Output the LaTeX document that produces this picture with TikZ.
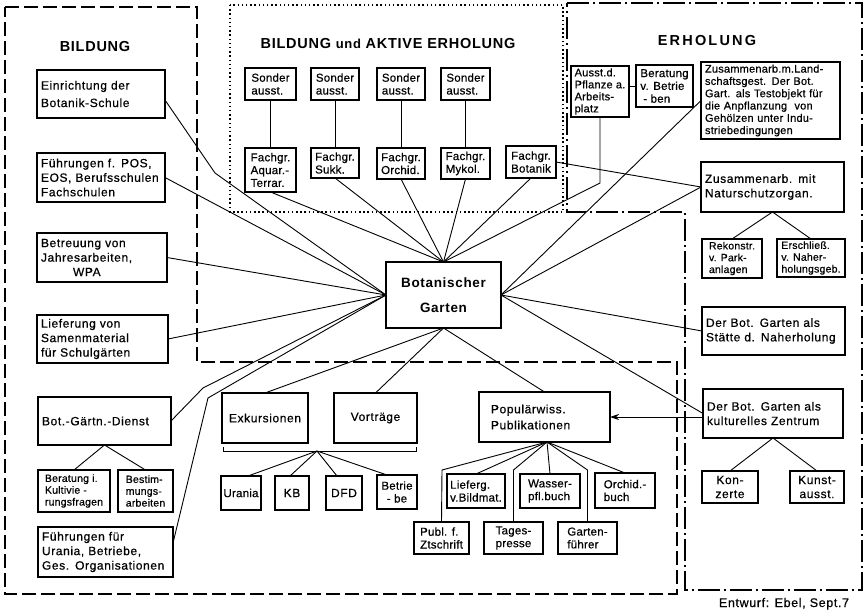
\documentclass[tikz,border=0pt]{standalone}
\usepackage{fontspec}
\setmainfont{Liberation Sans}[LetterSpace=5, UprightFeatures={FakeBold=0.6}]
\newfontfamily\nfont{Liberation Sans}[LetterSpace=2, FakeBold=0.6]
\usetikzlibrary{arrows.meta,calc}
\begin{document}
\begin{tikzpicture}[x=1pt,y=-1pt,
  every node/.style={inner sep=0pt, outer sep=0pt},
  box/.style={draw, line width=1.2pt},
  big/.style={box, font=\fontsize{12}{14.5}\selectfont, align=left, inner xsep=4pt},
  sm/.style={box, font=\nfont\fontsize{11.5}{12.8}\selectfont, align=left, inner xsep=1pt},
  smc/.style={sm, align=center},
  tiny/.style={font=\nfont\fontsize{10.5}{11.8}\selectfont},
  sz/.style 2 args={minimum width=#1, minimum height=#2},
  tw/.style={text width=#1},
  conn/.style={line width=0.9pt},
  title/.style={font=\bfseries\fontsize{14.5}{17}\selectfont},
  dashframe/.style={line width=1.8pt, dash pattern=on 14pt off 5pt},
  dotframe/.style={line width=1.8pt, dash pattern=on 1.5pt off 2.7pt},
  ddframe/.style={line width=1.7pt, dash pattern=on 22pt off 4pt on 2pt off 4pt},
]
\useasboundingbox (0,0) rectangle (867,612);

% frames
\draw[dashframe] (5,7) -- (197,7) -- (197,362) -- (677,362) -- (677,594) -- (5,594) -- cycle;
\draw[dotframe] (230,5) rectangle (563,212);
\draw[ddframe] (567,3) -- (862,3) -- (862,590) -- (685,590) -- (685,212) -- (567,212) -- cycle;

% titles
\node[title] (tB) at (95,47) {BILDUNG};
\node[title] (tBA) at (388,44) {BILDUNG {\fontsize{13}{15}\selectfont und} AKTIVE ERHOLUNG};
\node[font=\bfseries\fontsize{14.5}{17}\selectfont\addfontfeature{LetterSpace=15}] (tE) at (707,41) {ERHOLUNG};
\node[anchor=base west, font=\fontsize{12.5}{14}\selectfont] (ent) at (719,607) {Entwurf: Ebel, Sept.7};

% left column
\node[big, tw=120pt, minimum height=48pt] (ein) at (101,94) {Einrichtung der\\[3pt]Botanik-Schule};
\node[big, tw=120pt, minimum height=49pt] (fpos) at (101,177.5) {Führungen f. POS,\\EOS, Berufsschulen\\Fachschulen};
\node[big, tw=122pt, minimum height=49pt] (betr) at (102,257.5) {Betreuung von\\Jahresarbeiten,\\\hspace*{32pt}WPA};
\node[big, tw=123pt, minimum height=48pt] (lief) at (102.5,339) {Lieferung von\\Samenmaterial\\für Schulgärten};
\node[big, tw=125pt, minimum height=48pt] (bgd) at (104.5,421) {Bot.-Gärtn.-Dienst};
\node[sm, tiny, sz={72pt}{42pt}] (ber) at (74,491) {Beratung i.\\Kultivie -\\rungsfragen};
\node[sm, tiny, sz={55pt}{42pt}] (best) at (145.5,491) {Bestim-\\mungs-\\arbeiten};
\node[big, tw=127pt, minimum height=50pt] (furan) at (105.5,552) {Führungen für\\Urania, Betriebe,\\Ges. Organisationen};

% middle top
\node[sm, sz={51pt}{32pt}] (s1) at (270.5,84) {Sonder\\ausst.};
\node[sm, sz={48pt}{32pt}] (s2) at (335,84) {Sonder\\ausst.};
\node[sm, sz={48pt}{32pt}] (s3) at (401,84) {Sonder\\ausst.};
\node[sm, sz={49pt}{32pt}] (s4) at (465.5,84) {Sonder\\ausst.};
\node[sm, sz={51pt}{44pt}] (f1) at (270.5,170) {Fachgr.\\Aquar.-\\Terrar.};
\node[sm, sz={48pt}{30pt}] (f2) at (335,163) {Fachgr.\\Sukk.};
\node[sm, sz={48pt}{31pt}] (f3) at (401,163.5) {Fachgr.\\Orchid.};
\node[sm, sz={49pt}{31pt}] (f4) at (465.5,163.5) {Fachgr.\\Mykol.};
\node[sm, sz={50pt}{32pt}] (f5) at (531,162) {Fachgr.\\Botanik};

% centre
\node[box, line width=1.3pt, minimum width=115pt, minimum height=66pt, font=\bfseries\fontsize{13.5}{25}\selectfont, align=center] (bg) at (443.5,295) {Botanischer\\Garten};

% bottom middle
\node[box, font=\fontsize{12}{14}\selectfont, sz={86pt}{50pt}] (exk) at (265,418) {Exkursionen};
\node[box, font=\fontsize{12}{14}\selectfont, sz={83pt}{50pt}] (vor) at (375.5,418) {Vorträge};
\node[smc, sz={40pt}{34pt}] (ura) at (241,493) {Urania};
\node[box, font=\fontsize{12}{14}\selectfont, sz={34pt}{34pt}] (kb) at (292,493) {KB};
\node[box, font=\fontsize{12}{14}\selectfont, sz={36pt}{34pt}] (dfd) at (344,493) {DFD};
\node[smc, sz={40pt}{34pt}] (btb) at (397,492) {Betrie\\- be};
\node[big, tw=107pt, inner xsep=12pt, minimum height=50pt, font=\fontsize{12}{16}\selectfont] (pop) at (544.5,417) {Populärwiss.\\Publikationen};
\node[sm, sz={58pt}{34pt}] (lbm) at (476,491) {Lieferg.\\v.Bildmat.};
\node[sm, sz={60pt}{34pt}] (wpb) at (550,491) {Wasser-\\pfl.buch};
\node[sm, sz={60pt}{35pt}] (orb) at (625,490.5) {Orchid.-\\buch};
\node[sm, sz={55pt}{32pt}] (pfz) at (441.5,538) {Publ. f.\\Ztschrift};
\node[smc, sz={59pt}{32pt}] (tgp) at (513.5,538) {Tages-\\presse};
\node[sm, sz={59pt}{32pt}] (gfr) at (587.5,538) {Garten-\\führer};

% right column
\node[sm, font=\nfont\fontsize{11}{12}\selectfont, sz={58pt}{51pt}] (aus) at (600,91.5) {Ausst.d.\\Pflanze a.\\Arbeits-\\platz};
\node[sm, sz={57pt}{42pt}] (bvb) at (664.5,86) {Beratung\\v. Betrie\\\hspace*{3pt}- ben};
\node[box, font=\nfont\fontsize{11}{12.3}\selectfont, align=left, inner xsep=4pt, text width=131pt, minimum height=77pt] (zml) at (770.5,100.5) {Zusammenarb.m.Land-\\schaftsgest. Der Bot.\\Gart. als Testobjekt für\\die Anpflanzung\ \ von\\Gehölzen unter Indu-\\striebedingungen};
\node[big, tw=135pt, minimum height=50pt] (zmn) at (772.5,187) {Zusammenarb. mit\\Naturschutzorgan.};
\node[sm, tiny, sz={60pt}{39pt}] (rek) at (732,258.5) {Rekonstr.\\v. Park-\\anlagen};
\node[sm, tiny, sz={68pt}{38pt}] (ers) at (811,258) {Erschließ.\\v. Naher-\\holungsgeb.};
\node[big, tw=135pt, minimum height=48pt] (sta) at (773.5,331) {Der Bot. Garten als\\Stätte d. Naherholung};
\node[big, tw=132pt, minimum height=49pt] (kul) at (773,413.5) {Der Bot. Garten als\\kulturelles Zentrum};
\node[box, font=\fontsize{12}{14}\selectfont, align=center, sz={56pt}{32pt}] (kon) at (730,487) {Kon-\\zerte};
\node[box, font=\fontsize{12}{14}\selectfont, align=center, sz={54pt}{32pt}] (kun) at (817,487) {Kunst-\\ausst.};

% bend points
\coordinate (k1) at (215,173);
\coordinate (k2) at (203,388);
\coordinate (k3) at (208,398);
\coordinate (k5) at (600,183);
\coordinate (brL) at (223,447);
\coordinate (brR) at (416,447);
\coordinate (brC) at (317,451);
\coordinate (pS) at (547,442);
\coordinate (pk1) at (442,470);
\coordinate (pk2) at (513.5,470);
\coordinate (pk3) at (587.5,470);

% connectors: left
\draw[conn] ([yshift=-6pt]ein.east) -- (k1) -- (bg.west);
\draw[conn] (fpos.east) -- (bg.west);
\draw[conn] (betr.east) -- (bg.west);
\draw[conn] (lief.east) -- (bg.west);
\draw[conn] (bgd.east) -- (k2) -- (bg.west);
\draw[conn] ([yshift=9pt]furan.east) -- (k3) -- (bg.west);
\draw[conn] (bgd.south) -- (ber.north);
\draw[conn] (bgd.south) -- (best.north);

% connectors: top middle
\foreach \i in {1,2,3,4}{\draw[conn] (s\i.south) -- (f\i.north);}
\foreach \i in {1,2,3,4,5}{\draw[conn] (f\i.south) -- (bg.north);}
\draw[conn] (f5.east) -- (zmn.west);

% connectors: right
\draw[conn] (aus.south) -- (k5) -- (bg.north);
\draw[conn] (aus.east |- bvb.west) -- (bvb.west);
\draw[conn] (zml.west) -- (bg.east);
\draw[conn] (zmn.west) -- (bg.east);
\draw[conn] (sta.west) -- (bg.east);
\draw[conn] (kul.west) -- (bg.east);
\draw[conn] (zmn.south) -- (rek.north);
\draw[conn] (zmn.south) -- (ers.north);
\draw[conn, -{Stealth[length=9pt, width=6pt]}] (kul.west |- pop.east) -- (pop.east);
\draw[conn] (kul.south) -- (kon.north);
\draw[conn] (kul.south) -- (kun.north);

% connectors: bottom
\draw[conn] (bg.south) -- (exk.north);
\draw[conn] (bg.south) -- (vor.north);
\draw[conn] (bg.south) -- (pop.north);
\draw[conn] (brL) -- (brL |- brC) -- (brR |- brC) -- (brR);
\draw[conn] (brC) -- ([xshift=7pt]ura.north);
\draw[conn] (brC) -- ([xshift=-2pt]kb.north);
\draw[conn] (brC) -- ([xshift=-7pt]dfd.north);
\draw[conn] (brC) -- ([xshift=-10pt]btb.north);
\draw[conn] (pS) -- (pk1) -- (pfz.north);
\draw[conn] (pS) -- (lbm.north);
\draw[conn] (pS) -- (pk2) -- (tgp.north);
\draw[conn] (pS) -- (wpb.north);
\draw[conn] (pS) -- (pk3) -- (gfr.north);
\draw[conn] (pS) -- (orb.north);
\end{tikzpicture}
\end{document}
